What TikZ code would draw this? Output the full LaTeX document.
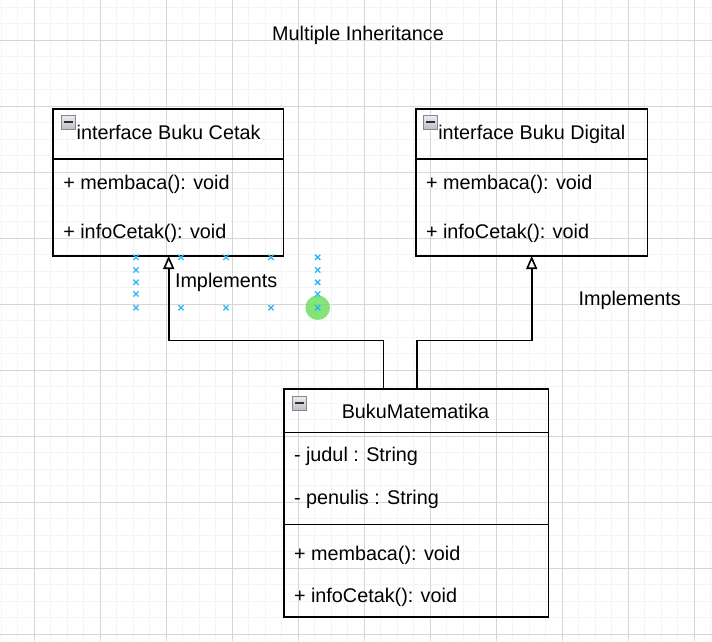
\documentclass[tikz,border=0pt]{standalone}
\usepackage{fontspec}
\setmainfont{Liberation Sans}
\usetikzlibrary{arrows.meta}
\definecolor{minorg}{RGB}{244,244,244}
\definecolor{majorg}{RGB}{214,214,214}
\definecolor{selblue}{RGB}{41,182,242}
\definecolor{selgreen}{RGB}{112,224,98}
\definecolor{iconedge}{RGB}{135,135,148}
\definecolor{icontop}{RGB}{236,236,240}
\definecolor{iconbot}{RGB}{190,190,200}
\definecolor{icondark}{RGB}{45,45,50}
\begin{document}
\begin{tikzpicture}[x=1pt,y=-1pt,
  every node/.style={font=\fontsize{19.8pt}{23pt}\selectfont, inner sep=0pt, outer sep=0pt},
  umlbox/.style={draw=black, line width=1.6pt, rectangle, anchor=north west},
  sepline/.style={draw=black, line width=1.6pt},
  txt/.style={anchor=base west},
  impl/.style={draw=black, line width=1.6pt, -{Triangle[open,length=13pt,width=11pt]}},
  icon/.style={rectangle, draw=iconedge, line width=1pt, minimum size=14pt,
    top color=icontop, bottom color=iconbot,
    path picture={\draw[icondark, line width=2.2pt] ([xshift=-4.5pt]path picture bounding box.center) -- ([xshift=4.5pt]path picture bounding box.center);}},
  xmk/.style={draw=selblue, line width=1.3pt},
  minorline/.style={draw=minorg, line width=0.9pt},
  majorline/.style={draw=majorg, line width=1pt}]
\useasboundingbox (0,0) rectangle (712,641);
\fill[white] (0,0) rectangle (712,641);
% grid
\foreach \i in {-2,...,41} \draw[minorline] ({34.3+16.5*\i},0) -- ({34.3+16.5*\i},641);
\foreach \j in {-2,...,36} \draw[minorline] (0,{40.3+16.5*\j}) -- (712,{40.3+16.5*\j});
\foreach \i in {0,...,10} \draw[majorline] ({34.3+66*\i},0) -- ({34.3+66*\i},641);
\foreach \j in {0,...,9} \draw[majorline] (0,{40.3+66*\j}) -- (712,{40.3+66*\j});

% title
\node[anchor=base] (title) at (358,40) {Multiple Inheritance};

% Buku Cetak
\node[umlbox, minimum width=230.6pt, minimum height=147pt] (cetak) at (52.7,109) {};
\draw[sepline] ([yshift=-50pt]cetak.north west) -- ([yshift=-50pt]cetak.north east);
\node[icon] (icc) at (68,122) {};
\node[txt] (cetakT) at (76.7,139.3) {interface Buku Cetak};
\node[txt] (cetakM1) at (63.3,189.3) {+ membaca(): void};
\node[txt] (cetakM2) at (63.3,238.3) {+ infoCetak(): void};

% Buku Digital
\node[umlbox, minimum width=231.3pt, minimum height=147pt] (digital) at (416,109) {};
\draw[sepline] ([yshift=-50pt]digital.north west) -- ([yshift=-50pt]digital.north east);
\node[icon] (icd) at (430.8,122) {};
\node[txt] (digitalT) at (438.3,139.3) {interface Buku Digital};
\node[txt] (digitalM1) at (426,189.3) {+ membaca(): void};
\node[txt] (digitalM2) at (426,238.3) {+ infoCetak(): void};

% BukuMatematika
\node[umlbox, minimum width=264.3pt, minimum height=227.7pt] (mat) at (284,389) {};
\draw[sepline] ([yshift=-43.3pt]mat.north west) -- ([yshift=-43.3pt]mat.north east);
\draw[sepline] ([yshift=-135.3pt]mat.north west) -- ([yshift=-135.3pt]mat.north east);
\node[icon] (icm) at (299.5,403) {};
\node[anchor=base] (matT) at (415.5,418.3) {BukuMatematika};
\node[txt] (matA1) at (294,461.7) {- judul : String};
\node[txt] (matA2) at (294,504) {- penulis : String};
\node[txt] (matM1) at (294,560) {+ membaca(): void};
\node[txt] (matM2) at (294,602.3) {+ infoCetak(): void};

% connectors
\coordinate (a1) at ([xshift=99.3pt]mat.north west);
\coordinate (t1) at ([xshift=116pt]cetak.south west);
\coordinate (a2) at ([xshift=132.7pt]mat.north west);
\coordinate (t2) at ([xshift=115.7pt]digital.south west);
\draw[impl] (a1) -- ++(0,-48.7) -| (t1);
\draw[impl] (a2) -- ++(0,-48.7) -| (t2);

% labels
\node[txt] (lab1) at (175,287.3) {Implements};
\node[anchor=base] (lab2) at (629.7,305) {Implements};

% selection handles
\fill[selgreen, opacity=0.85] (317.7,307.7) circle (12.3);
\foreach \p in {(136,257.3),(136,270),(136,282.3),(136,294),(136,307.7),
  (181,257.3),(226,257.3),(271,257.3),
  (317.7,257.3),(317.7,270),(317.7,282.3),(317.7,294),(317.7,307.7),
  (181,307.7),(226,307.7),(271,307.7)}
{ \draw[xmk] \p ++(-2.6,-2.6) -- ++(5.2,5.2) \p ++(-2.6,2.6) -- ++(5.2,-5.2); }
\end{tikzpicture}
\end{document}
